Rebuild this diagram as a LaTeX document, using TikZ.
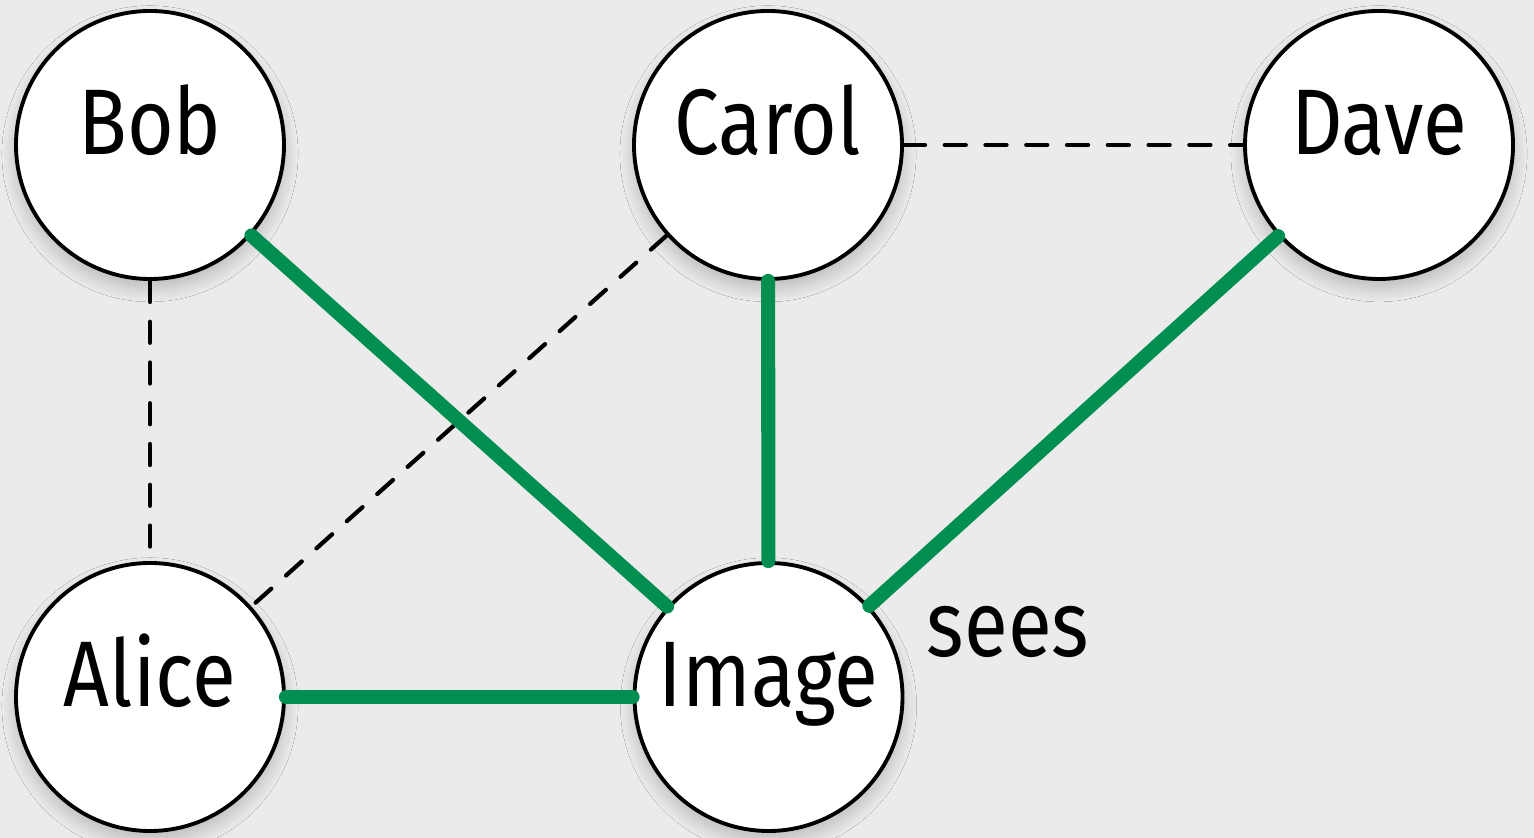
\documentclass[tikz,border=0pt]{standalone}
\usepackage{fontspec}
\setmainfont[FakeStretch=0.86]{Fira Sans}
\usepackage{xcolor}
\usepackage{tikz}
\usetikzlibrary{positioning, shadows.blur}

\definecolor{bgcanvas}{HTML}{EBEBEB}
\definecolor{seegreen}{HTML}{008F50}

\begin{document}
\begin{tikzpicture}[
    person/.style={circle, draw=black, fill=white, line width=1.1pt, minimum size=2.68cm, inner sep=0pt,
        font=\fontsize{26.5}{30}\selectfont, text height=0.70cm, text depth=0.50cm,
        blur shadow={shadow blur steps=20, shadow blur radius=4pt, shadow xshift=0pt, shadow yshift=-2.5pt, shadow opacity=22, shadow scale=1.0}},
    seeline/.style={line width=4pt, draw=seegreen, line cap=round},
    knowline/.style={line width=1.2pt, draw=black, line cap=round, dash pattern=on 6pt off 5.6pt}
]

% Canvas
\fill[bgcanvas] (0,0) rectangle (15.34,8.38);
\useasboundingbox (0,0) rectangle (15.34,8.38);

% People
\node[person] (bob) at (1.50, 6.93) {Bob};
\node[person] (carol) at (7.68, 6.93) {Carol};
\node[person] (dave) at (13.79, 6.93) {Dave};
\node[person] (alice) at (1.50, 1.41) {Alice};
\node[person] (image) at (7.685, 1.41) {Image};

% Who knows whom
\draw[knowline] (bob) -- (alice);
\draw[knowline] (carol) -- (alice);
\draw[knowline] (carol) -- (dave);

% What the image sees
\draw[seeline] (bob) -- (image);
\draw[seeline] (carol) -- (image);
\draw[seeline] (dave) -- (image);
\draw[seeline] (alice) -- (image);

\node[font=\fontsize{26.5}{30}\selectfont, inner sep=0pt] (sees) at (10.08, 2.06) {sees};

\end{tikzpicture}
\end{document}
